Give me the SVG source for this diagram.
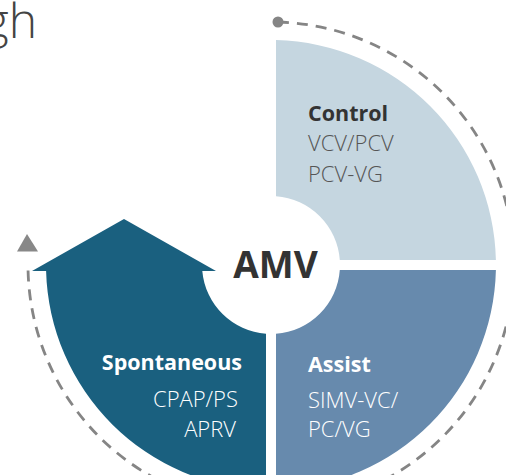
<svg xmlns="http://www.w3.org/2000/svg" width="506" height="475" viewBox="0 0 506 475">
<style>
.t{font-family:"Open Sans","Liberation Sans",sans-serif}
.h{font-weight:700;font-size:21.5px}
.s{font-weight:300;font-size:22px}
.dk{fill:#333333}
.md{fill:#555555}
.wh{fill:#ffffff}
</style>
<rect width="506" height="475" fill="#ffffff"/>
<text class="t" x="37" y="38" text-anchor="end" font-size="48" font-weight="300" fill="#444444">gh</text>
<g id="connectors">
<path d="M278 22 A243 243 0 1 1 28 265" fill="none" stroke="#858585" stroke-width="2.8" stroke-dasharray="11 8"/>
<circle cx="278" cy="22" r="5.5" fill="#858585"/>
<polygon points="27,234 17,251.5 38,251.5" fill="#888888"/>
</g>
<g id="control">
<path d="M276,196.2 L276,40.1 A225,225 0 0 1 495.9,260 L339.8,260 A69,69 0 0 0 276,196.2 Z" fill="#c5d6e0"/>
<text class="t h dk" x="308" y="121">Control</text>
<text class="t s md" x="308" y="151">VCV/PCV</text>
<text class="t s md" x="308" y="182">PCV-VG</text>
</g>
<g id="assist">
<path d="M339.8,270 L495.9,270 A225,225 0 0 1 276,489.9 L276,333.8 A69,69 0 0 0 339.8,270 Z" fill="#678aad"/>
<text class="t h wh" x="308" y="372">Assist</text>
<text class="t s wh" x="308" y="408">SIMV-VC/</text>
<text class="t s wh" x="308" y="437">PC/VG</text>
</g>
<g id="spontaneous">
<path d="M32,271 L124,219 L216,271 L202.3,271 A69,69 0 0 0 266,333.8 L266,489.9 A225,225 0 0 1 46.1,271 Z" fill="#1a607f"/>
<text class="t h wh" x="242" y="370" text-anchor="end">Spontaneous</text>
<text class="t s wh" x="238" y="407" text-anchor="end">CPAP/PS</text>
<text class="t s wh" x="236" y="437" text-anchor="end">APRV</text>
</g>
<g id="amv">
<text class="t dk" x="275.5" y="278" text-anchor="middle" font-size="37" font-weight="700">AMV</text>
</g>
</svg>
